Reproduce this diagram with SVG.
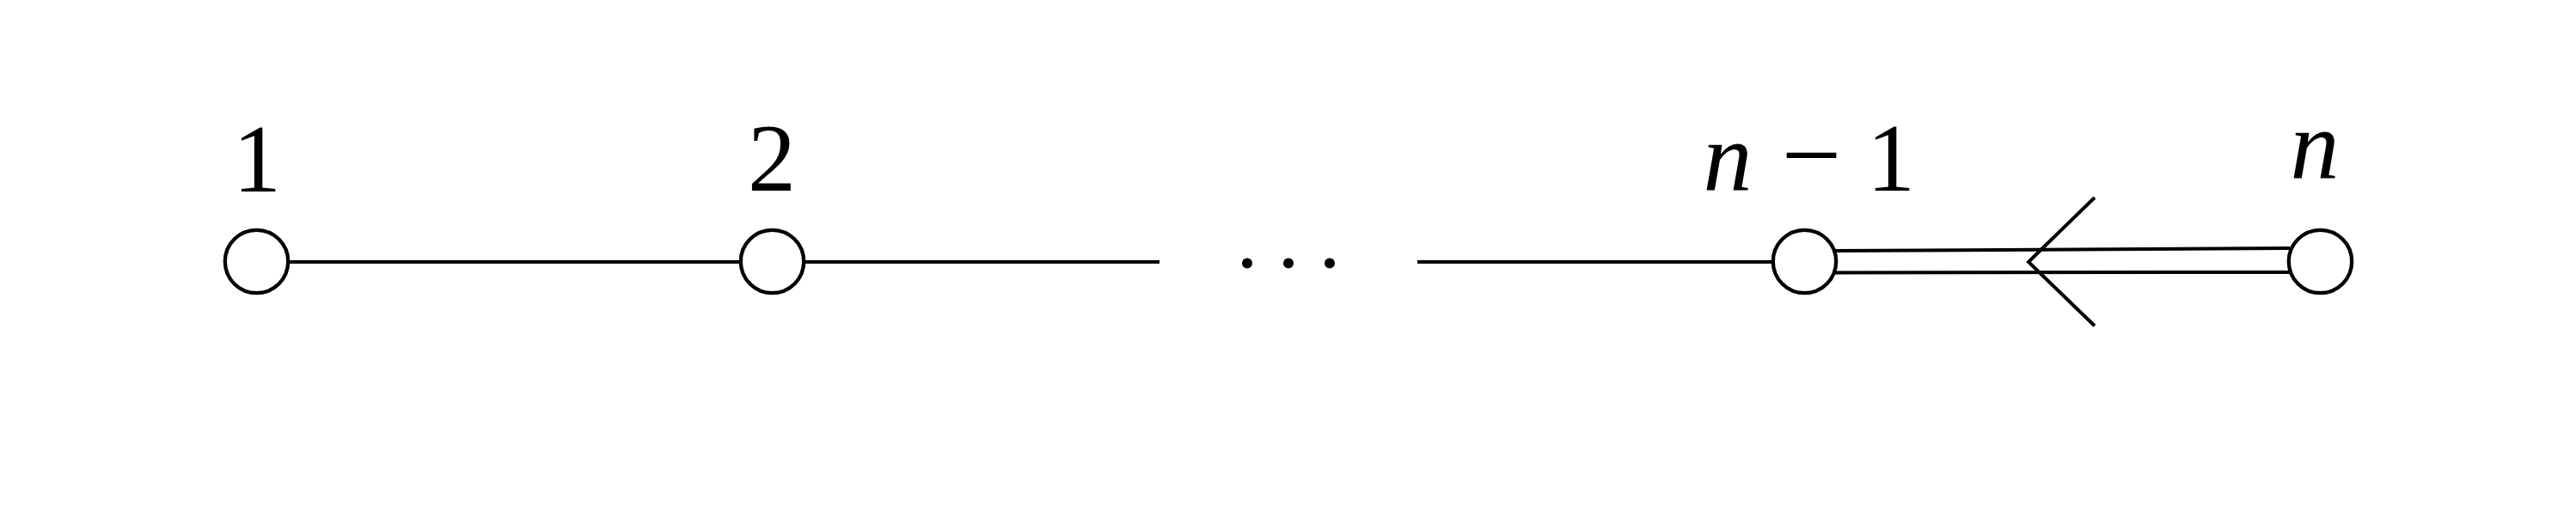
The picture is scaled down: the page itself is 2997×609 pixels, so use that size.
<svg xmlns="http://www.w3.org/2000/svg" width="2997" height="609" viewBox="0 0 2997 609">
<style>
.node{fill:#fff;stroke:#000;stroke-width:4.3}
.edge{stroke:#000;stroke-width:4;fill:none}
.num{font-family:"Liberation Serif","DejaVu Serif",serif;font-size:112px;fill:#000;text-anchor:middle}
.var{font-family:"Liberation Serif","DejaVu Serif",serif;font-style:italic;font-size:114px;fill:#000;text-anchor:middle}
</style>
<rect width="2997" height="609" fill="#fff"/>
<g id="connectors">
<line class="edge" x1="335" y1="305" x2="862" y2="305"/>
<line class="edge" x1="935" y1="305" x2="1349" y2="305"/>
<line class="edge" x1="1649" y1="305" x2="2063" y2="305"/>
<line class="edge" x1="2135" y1="292" x2="2664" y2="289"/>
<line class="edge" x1="2135" y1="317.5" x2="2664" y2="317"/>
<polyline class="edge" points="2437,230 2360,305 2437,379.5"/>
</g>
<g id="dots">
<circle cx="1451" cy="306.5" r="6" fill="#000"/>
<circle cx="1499" cy="306.5" r="6" fill="#000"/>
<circle cx="1547" cy="306.5" r="6" fill="#000"/>
</g>
<g id="node1">
<circle class="node" cx="298.5" cy="304.5" r="36.7"/>
<text class="num" x="299" y="222.5">1</text>
</g>
<g id="node2">
<circle class="node" cx="898.5" cy="304.5" r="36.7"/>
<text class="num" x="898" y="221.5">2</text>
</g>
<g id="node-n-1">
<circle class="node" cx="2099.5" cy="304.5" r="36.7"/>
<text class="var" x="2010" y="221.5">n</text>
<text class="num" x="2107.5" y="222" style="font-size:124px">−</text>
<text class="num" x="2200" y="221.5">1</text>
</g>
<g id="node-n">
<circle class="node" cx="2699.5" cy="304.5" r="36.7"/>
<text class="var" x="2693" y="208">n</text>
</g>
</svg>
